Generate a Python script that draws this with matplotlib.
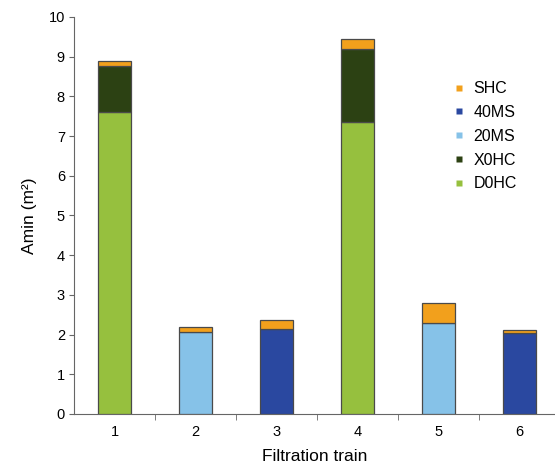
import numpy as np
import matplotlib
matplotlib.use("Agg")
import matplotlib.pyplot as plt
from matplotlib.lines import Line2D

plt.rcParams["font.family"] = ["Liberation Sans", "DejaVu Sans"]

trains = [1, 2, 3, 4, 5, 6]
d0hc = [7.6, 0, 0, 7.35, 0, 0]
x0hc = [1.17, 0, 0, 1.84, 0, 0]
ms20 = [0, 2.07, 0, 0, 2.30, 0]
ms40 = [0, 0, 2.15, 0, 0, 2.05]
shc = [0.13, 0.11, 0.22, 0.25, 0.50, 0.07]

layers = [
    ("D0HC", d0hc, "#96C03E"),
    ("X0HC", x0hc, "#2C4113"),
    ("20MS", ms20, "#86C2E8"),
    ("40MS", ms40, "#2A48A0"),
    ("SHC", shc, "#F2A01C"),
]

fig = plt.figure(figsize=(5.55, 4.68), dpi=100)
ax = fig.add_axes([0.1333, 0.1154, 0.8667, 0.8483])

x = np.array(trains, dtype=float)
bottom = np.zeros(len(x))
for name, vals, col in layers:
    v = np.asarray(vals, dtype=float)
    mask = v > 0
    ax.bar(x[mask], v[mask], width=0.41, bottom=bottom[mask], color=col,
           edgecolor="#4a4a4a", linewidth=0.9, zorder=3)
    bottom += v

ax.set_xlim(0.5, 6.44)
ax.set_ylim(0, 10)
ax.set_yticks(range(0, 11))

# category labels sit between the boundary ticks
ax.set_xticks(x)
ax.set_xticklabels([str(t) for t in trains])
ax.tick_params(axis="x", which="major", length=0, pad=8, labelsize=10.5)
ax.set_xticks(np.arange(1.5, 6.5, 1.0), minor=True)
ax.tick_params(axis="x", which="minor", length=4, color="#666666")
ax.tick_params(axis="y", length=3.5, color="#666666", labelsize=10.5, pad=3)

for side in ("top", "right"):
    ax.spines[side].set_visible(False)
for side in ("left", "bottom"):
    ax.spines[side].set_color("#666666")

ax.set_xlabel("Filtration train", fontsize=12.5, labelpad=7)
ax.set_ylabel("Amin (m²)", fontsize=12.5, labelpad=8)

handles = [Line2D([], [], marker="s", linestyle="none", markersize=5,
                  markerfacecolor=col, markeredgecolor="none", label=name)
           for name, _, col in reversed(layers)]
ax.legend(handles=handles, loc="upper left", bbox_to_anchor=(0.79, 0.857),
          bbox_transform=fig.transFigure, frameon=False, fontsize=11.5,
          handlelength=0.8, handletextpad=0.5, labelspacing=0.55)

fig.savefig("out.png", dpi=100)
